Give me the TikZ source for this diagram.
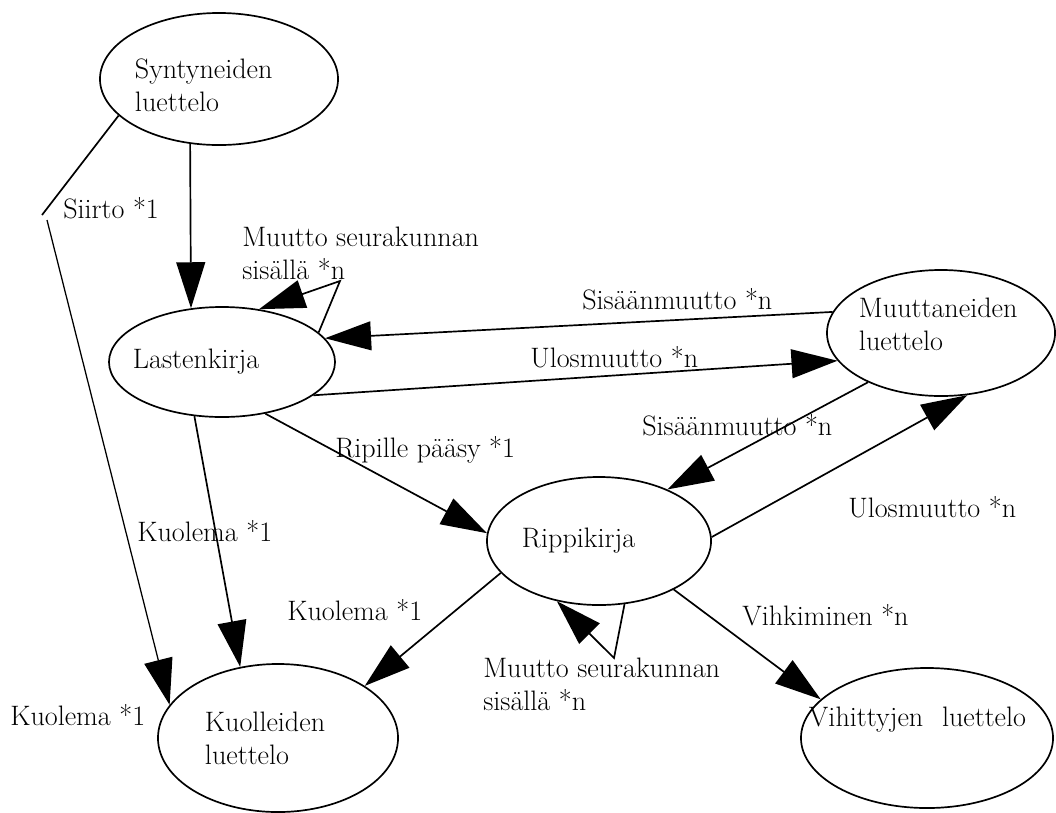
\documentclass[tikz,border=0pt]{standalone}
\usepackage{tikz}
\usepackage{xcolor}
\usetikzlibrary{arrows.meta,shapes.geometric}

\tikzset{
  register/.style={draw, ellipse, line width=1.2pt, inner sep=-1cm, align=left},
  flow/.style={line width=1.2pt, -{Triangle[length=1.15cm,width=0.72cm]}},
  plainflow/.style={line width=1.2pt},
  flowlabel/.style={anchor=west, inner sep=0pt, align=left}
}

\begin{document}
\begin{tikzpicture}[x=0.025cm, y=-0.025cm, font=\fontsize{20}{23.5}\selectfont]
  \filldraw[fill=white, draw=none] (0,0) rectangle (1056,811);

  % registers
  \node[register, minimum width=5.95cm, minimum height=3.3cm, text width=4.2cm, text height=22.6pt, text depth=23.5pt] (synt) at (219,79) {Syntyneiden\\luettelo};
  \node[register, minimum width=5.65cm, minimum height=2.75cm, text width=4.45cm] (lasten) at (222,362) {Lastenkirja};
  \node[register, minimum width=5.7cm, minimum height=3.15cm, text width=4.1cm, text height=14pt, text depth=36pt] (muut) at (941,333) {Muuttaneiden\\luettelo};
  \node[register, minimum width=5.6cm, minimum height=3.2cm, text width=3.85cm] (ripp) at (599,541) {Rippikirja};
  \node[register, minimum width=6cm, minimum height=3.7cm, text width=3.65cm] (kuoll) at (278,738) {Kuolleiden\\luettelo};
  \node[register, minimum width=6.3cm, minimum height=3.5cm, text width=5.9cm, text height=13pt, text depth=29.6pt] (vih) at (927,738) {Vihittyjen\ \ luettelo};

  \coordinate (siirtoA) at (42,215);
  \coordinate (siirtoB) at (47,220);
  \coordinate (lastenLoop) at (340,281);
  \coordinate (rippLoop) at (614,658);

  % flows
  \draw[flow] (synt.-114) -- (lasten.120);
  \draw[plainflow] (synt.-160) -- (siirtoA);
  \draw[flow, line width=0.9pt] (siirtoB) -- (kuoll.163);
  \draw[flow] (lasten.17) -- (lastenLoop) -- (lasten.55);
  \draw[flow] (muut.169) -- (lasten.13);
  \draw[flow] (lasten.-20) -- (muut.-165);
  \draw[flow] (lasten.-50) -- (ripp.176);
  \draw[flow] (lasten.-117) -- (kuoll.118);
  \draw[flow] (ripp.-162) -- (kuoll.31);
  \draw[flow] (muut.-146) -- (ripp.37);
  \draw[flow] (ripp.2) -- (muut.-67);
  \draw[flow] (ripp.-33) -- (vih.160);
  \draw[flow] (ripp.-68) -- (rippLoop) -- (ripp.-125);

  % labels
  \node[flowlabel] (siirtoLbl) at (63,208) {Siirto *1};
  \node[flowlabel] (lastenLoopLbl) at (242,253) {Muutto seurakunnan\\sisällä *n};
  \node[flowlabel] (sisTopLbl) at (582,299) {Sisäänmuutto *n};
  \node[flowlabel] (ulosTopLbl) at (530,357) {Ulosmuutto *n};
  \node[flowlabel] (ripilleLbl) at (335,450) {Ripille pääsy *1};
  \node[flowlabel] (sisLowLbl) at (642,425) {Sisäänmuutto *n};
  \node[flowlabel] (ulosLowLbl) at (848,507) {Ulosmuutto *n};
  \node[flowlabel] (kuolLastenLbl) at (137,531) {Kuolema *1};
  \node[flowlabel] (kuolRippLbl) at (287,610) {Kuolema *1};
  \node[flowlabel] (vihkLbl) at (742,615) {Vihkiminen *n};
  \node[flowlabel] (rippLoopLbl) at (483,684) {Muutto seurakunnan\\sisällä *n};
  \node[flowlabel] (kuolSiirtoLbl) at (10,715) {Kuolema *1};
\end{tikzpicture}
\end{document}
